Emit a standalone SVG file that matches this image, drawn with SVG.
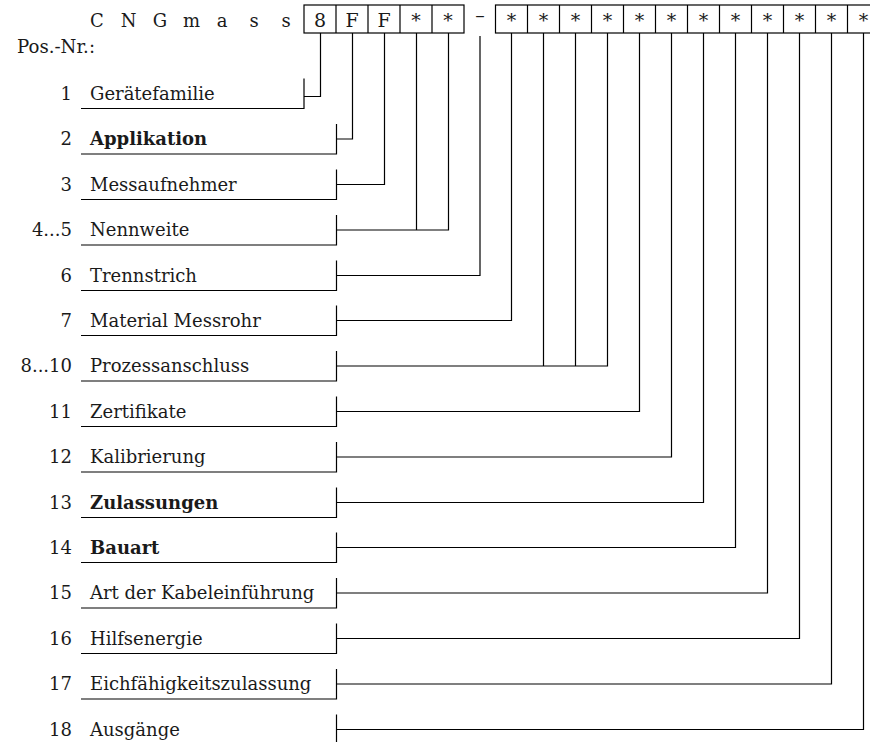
<svg xmlns="http://www.w3.org/2000/svg" width="870" height="742" viewBox="0 0 870 742">
<style>
text{font-family:"DejaVu Serif","Liberation Serif",serif;font-size:18px;fill:#1a1a1a}
.num{text-anchor:end}
.b{font-weight:bold}
.box{text-anchor:middle;font-size:19px}
.hd{text-anchor:middle;font-size:18px}
.ln{fill:none;stroke:#000;stroke-width:1.2}
</style>
<rect width="870" height="742" fill="#fff"/>
<g id="header">
<text class="hd" x="97 128.5 160 191.5 222 254 286" y="27">CNGmass</text>
<text x="17" y="53" textLength="78" lengthAdjust="spacingAndGlyphs">Pos.-Nr.:</text>
<g class="ln">
<rect x="304" y="5" width="160" height="28"/>
<path d="M336 5V33M368 5V33M400 5V33M432 5V33"/>
<rect x="495.5" y="5" width="384" height="28"/>
<path d="M527.5 5V33M559.5 5V33M591.5 5V33M623.5 5V33M655.5 5V33M687.5 5V33M719.5 5V33M751.5 5V33M783.5 5V33M815.5 5V33M847.5 5V33"/>
</g>
<text class="box" x="320 352 384 416 448" y="27">8FF**</text>
<text class="box" x="480" y="22">–</text>
<text class="box" x="511.5 543.5 575.5 607.5 639.5 671.5 703.5 735.5 767.5 799.5 831.5 863.5" y="27">************</text>
</g>
<g id="connectors" class="ln">
<path d="M320.5 33V96.5H304"/>
<path d="M352.5 33V139H336.5"/>
<path d="M384.5 33V184.5H336.5"/>
<path d="M416.5 33V230H336.5M448.5 33V230H416.5"/>
<path d="M480 36V275.5H336.5"/>
<path d="M511.5 33V320.5H336.5"/>
<path d="M543.5 33V366H336.5M575.5 33V366H543.5M607.5 33V366H575.5"/>
<path d="M639.5 33V411.5H336.5"/>
<path d="M671.5 33V457H336.5"/>
<path d="M703.5 33V502.5H336.5"/>
<path d="M735.5 33V547.5H336.5"/>
<path d="M767.5 33V593H336.5"/>
<path d="M799.5 33V638.5H336.5"/>
<path d="M831.5 33V684H336.5"/>
<path d="M863.5 33V729.5H336.5"/>
</g>
<g id="pos1"><text class="num" x="72" y="99.5">1</text><text x="90" y="99.5">Gerätefamilie</text><path class="ln" d="M81 108.5H304V78.5"/></g>
<g id="pos2"><text class="num" x="72" y="145">2</text><text class="b" x="90" y="145">Applikation</text><path class="ln" d="M81 154H336.5V124"/></g>
<g id="pos3"><text class="num" x="72" y="190.5">3</text><text x="90" y="190.5">Messaufnehmer</text><path class="ln" d="M81 199.5H336.5V169.5"/></g>
<g id="pos4-5"><text class="num" x="72" y="236">4...5</text><text x="90" y="236">Nennweite</text><path class="ln" d="M81 245H336.5V215"/></g>
<g id="pos6"><text class="num" x="72" y="281.5">6</text><text x="90" y="281.5">Trennstrich</text><path class="ln" d="M81 290.5H336.5V260.5"/></g>
<g id="pos7"><text class="num" x="72" y="326.5">7</text><text x="90" y="326.5">Material Messrohr</text><path class="ln" d="M81 335.5H336.5V305.5"/></g>
<g id="pos8-10"><text class="num" x="72" y="372">8...10</text><text x="90" y="372">Prozessanschluss</text><path class="ln" d="M81 381H336.5V351"/></g>
<g id="pos11"><text class="num" x="72" y="417.5">11</text><text x="90" y="417.5">Zertifikate</text><path class="ln" d="M81 426.5H336.5V396.5"/></g>
<g id="pos12"><text class="num" x="72" y="463">12</text><text x="90" y="463">Kalibrierung</text><path class="ln" d="M81 472H336.5V442"/></g>
<g id="pos13"><text class="num" x="72" y="508.5">13</text><text class="b" x="90" y="508.5">Zulassungen</text><path class="ln" d="M81 517.5H336.5V487.5"/></g>
<g id="pos14"><text class="num" x="72" y="553.5">14</text><text class="b" x="90" y="553.5">Bauart</text><path class="ln" d="M81 562.5H336.5V532.5"/></g>
<g id="pos15"><text class="num" x="72" y="599">15</text><text x="90" y="599">Art der Kabeleinführung</text><path class="ln" d="M81 608H336.5V578"/></g>
<g id="pos16"><text class="num" x="72" y="644.5">16</text><text x="90" y="644.5">Hilfsenergie</text><path class="ln" d="M81 653.5H336.5V623.5"/></g>
<g id="pos17"><text class="num" x="72" y="690">17</text><text x="90" y="690">Eichfähigkeitszulassung</text><path class="ln" d="M81 699H336.5V669"/></g>
<g id="pos18"><text class="num" x="72" y="735.5">18</text><text x="90" y="735.5">Ausgänge</text><path class="ln" d="M336.5 742V714.5"/></g>
</svg>
